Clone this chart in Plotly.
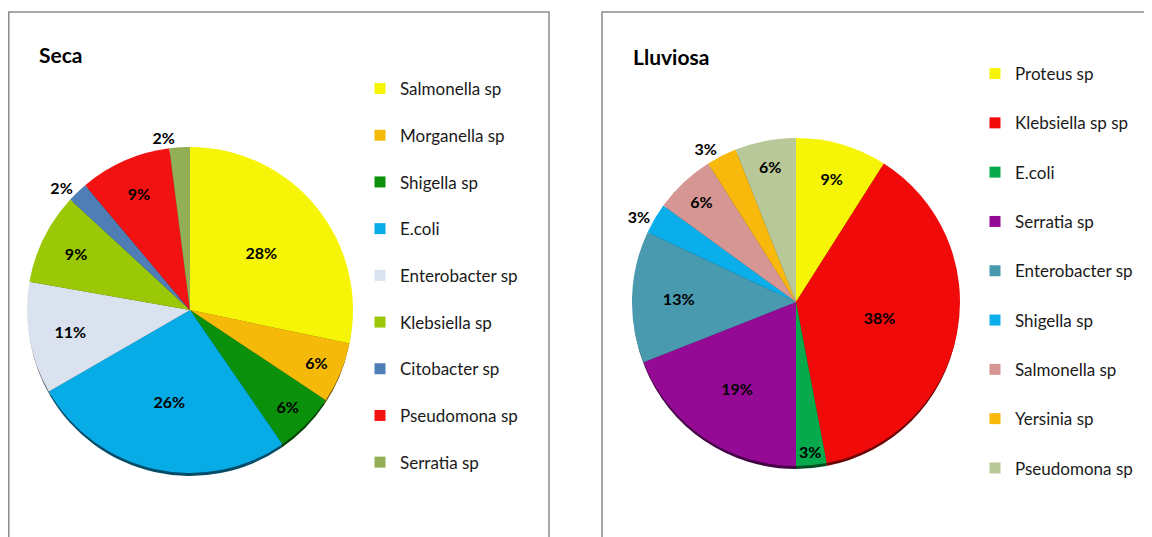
import plotly.graph_objects as go

W, H = 1152, 537
OFF = 8  # page body margin in the browser

# Época seca
seca_labels = ["Salmonella sp", "Morganella sp", "Shigella sp", "E.coli", "Enterobacter sp",
               "Klebsiella sp", "Citobacter sp", "Pseudomona sp", "Serratia sp"]
seca_pct = [28, 6, 6, 26, 11, 9, 2, 9, 2]
seca_colors = ["#F6F507", "#F5B90A", "#0A900A", "#07ABE6", "#D9E2EE",
               "#9BC806", "#4F7DB6", "#F21212", "#92AF56"]
seca_textpos = ["inside"] * 6 + ["outside", "inside", "outside"]

# Época lluviosa
lluviosa_labels = ["Proteus sp", "Klebsiella sp sp", "E.coli", "Serratia sp", "Enterobacter sp",
                   "Shigella sp", "Salmonella sp", "Yersinia sp", "Pseudomona sp"]
lluviosa_pct = [9, 38, 3, 19, 13, 3, 6, 3, 6]
lluviosa_colors = ["#F6F507", "#F00A0A", "#06AA4C", "#950A95", "#4999AF",
                   "#0AAEEA", "#D69693", "#F8B90C", "#B9C898"]
lluviosa_textpos = ["inside"] * 5 + ["outside", "inside", "outside", "inside"]

FONT = "Lato, 'Open Sans', sans-serif"


def px_x(x):
    return (x - OFF) / W


def px_y(y):
    return 1 - (y - OFF) / H


def pie_domain(cx, cy, r):
    return dict(x=[px_x(cx - r), px_x(cx + r)], y=[px_y(cy + r), px_y(cy - r)])


def darker(hex_color, f=0.45):
    h = hex_color.lstrip("#")
    r, g, b = (int(h[i:i + 2], 16) for i in (0, 2, 4))
    return f"rgb({int(r * f)},{int(g * f)},{int(b * f)})"


fig = go.Figure()

for labels, pct, colors, textpos, (cx, cy, r) in [
    (seca_labels, seca_pct, seca_colors, seca_textpos, (190, 310, 163)),
    (lluviosa_labels, lluviosa_pct, lluviosa_colors, lluviosa_textpos, (796, 302, 164)),
]:
    # dark rim under the pie (3D look of the original)
    fig.add_trace(go.Pie(
        labels=labels, values=pct, sort=False, direction="clockwise", rotation=0,
        marker=dict(colors=[darker(c) for c in colors], line=dict(width=0)),
        textinfo="none", domain=pie_domain(cx, cy + 4, r - 1),
        showlegend=False, hoverinfo="skip",
    ))
    fig.add_trace(go.Pie(
        labels=labels, values=pct, sort=False, direction="clockwise", rotation=0,
        marker=dict(colors=colors, line=dict(width=0)),
        texttemplate="%{value}%", textposition=textpos,
        insidetextorientation="horizontal",
        textfont=dict(family=FONT, size=16, color="black", weight="bold"),
        domain=pie_domain(cx, cy, r), showlegend=False, hoverinfo="label+value",
    ))

# legend entries, one group per item so the gap can be set
for key, labels, colors in [("legend", seca_labels, seca_colors),
                            ("legend2", lluviosa_labels, lluviosa_colors)]:
    for i, (lab, col) in enumerate(zip(labels, colors)):
        fig.add_trace(go.Scatter(
            x=[None], y=[None], mode="markers", name=lab,
            marker=dict(symbol="square", size=11, color=col),
            legendgroup=f"{key}_{i}", legend=key, showlegend=True,
        ))

legend_common = dict(xanchor="left", yanchor="top", bgcolor="rgba(0,0,0,0)",
                     font=dict(family=FONT, size=17, color="#1a1a1a"), itemwidth=30)

fig.update_layout(
    width=W, height=H, margin=dict(l=0, r=0, t=0, b=0),
    paper_bgcolor="white", plot_bgcolor="white",
    xaxis=dict(visible=False), yaxis=dict(visible=False),
    legend=dict(x=px_x(360), y=px_y(71), tracegroupgap=21.6, **legend_common),
    legend2=dict(x=px_x(975), y=px_y(56), tracegroupgap=24.2, **legend_common),
    shapes=[
        dict(type="rect", xref="paper", yref="paper", x0=px_x(8.8), x1=px_x(549),
             y0=-0.1, y1=px_y(12), line=dict(color="#8c8c8c", width=1.5)),
        dict(type="rect", xref="paper", yref="paper", x0=px_x(602), x1=1.1,
             y0=-0.1, y1=px_y(12), line=dict(color="#8c8c8c", width=1.5)),
    ],
    annotations=[
        dict(text="<b>Seca</b>", x=px_x(37), y=px_y(54), xref="paper", yref="paper",
             xanchor="left", yanchor="middle", showarrow=False,
             font=dict(family=FONT, size=21, color="black")),
        dict(text="<b>Lluviosa</b>", x=px_x(631), y=px_y(56), xref="paper", yref="paper",
             xanchor="left", yanchor="middle", showarrow=False,
             font=dict(family=FONT, size=21, color="black")),
    ],
    uniformtext=dict(minsize=16, mode="show"),
)

fig.write_html("out.html")
